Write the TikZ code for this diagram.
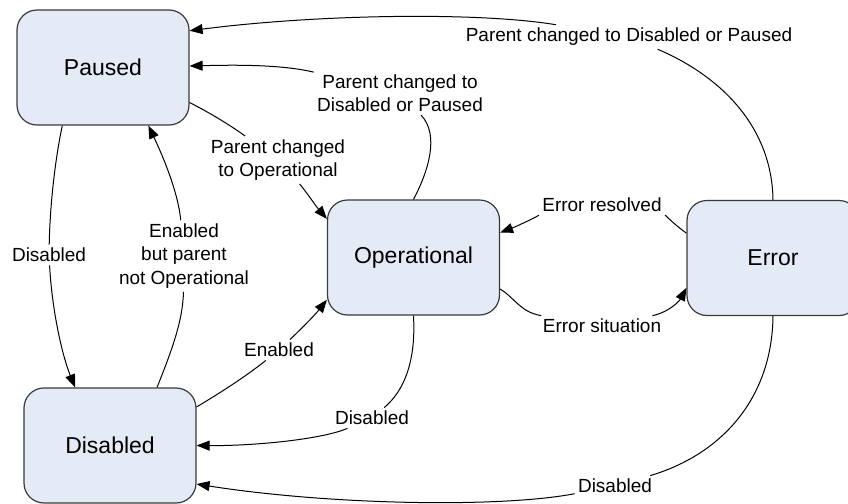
\documentclass[tikz,border=0pt]{standalone}
\usepackage{fontspec}
\setmainfont{Liberation Sans}
\usetikzlibrary{arrows.meta}
\definecolor{boxfill}{HTML}{E4EBF6}
\definecolor{boxline}{HTML}{3A3A3A}
\begin{document}
\begin{tikzpicture}[x=0.5pt,y=-0.5pt,
  state/.style={draw=boxline, fill=boxfill, line width=0.6pt, rounded corners=10pt,
    minimum width=86pt, minimum height=57.5pt, inner sep=0pt,
    font=\fontsize{11.5}{14}\selectfont},
  lbl/.style={inner sep=1.5pt, align=center, font=\fontsize{9.5}{11.75}\selectfont},
  tr/.style={line width=0.5pt},
  arr/.style={tr, -{Triangle[length=6.5pt,width=5pt]}}]
\useasboundingbox (0,0) rectangle (848,504);

% states
\node[state] (P) at (103,67.5) {Paused};
\node[state] (D) at (110,445.5) {Disabled};
\node[state] (O) at (413.5,257.5) {Operational};
\node[state] (E) at (773,258) {Error};

% labels
\node[lbl] (L1) at (629,37) {Parent changed to Disabled or Paused};
\node[lbl] (L2) at (400,93) {Parent changed to\\Disabled or Paused};
\node[lbl] (L3) at (278,160) {Parent changed\\to Operational};
\node[lbl] (L4) at (49,255) {Disabled};
\node[lbl] (L5) at (184,256) {Enabled\\but parent\\not Operational};
\node[lbl] (L6) at (279,350) {Enabled};
\node[lbl] (L7) at (372,418) {Disabled};
\node[lbl] (L8) at (602,205) {Error resolved};
\node[lbl] (L9) at (602,326) {Error situation};
\node[lbl] (L10) at (615,486) {Disabled};

% Error -> Paused (top arc)
\draw[tr] (E.north) .. controls (772,130) and (725,78) .. (L1);
\draw[arr] (L1) .. controls (480,12) and (320,14) .. (P.23);

% Operational -> Paused
\draw[tr] (O.north) .. controls (428,172) and (440,135) .. (L2);
\draw[arr] (L2) .. controls (280,64) and (230,65) .. (P.1);

% Paused -> Operational
\draw[tr] (P.-22) .. controls (210,113) and (230,125) .. (L3);
\draw[arr] (L3) .. controls (305,190) and (315,205) .. (O.156);

% Paused -> Disabled
\draw[tr] (P.-125) .. controls (55,160) and (50,205) .. (L4);
\draw[arr] (L4) .. controls (52,310) and (62,355) .. (D.121);

% Disabled -> Paused
\draw[tr] (D.51) .. controls (172,350) and (183,320) .. (L5);
\draw[arr] (L5) .. controls (178,190) and (160,150) .. (P.-52);

% Disabled -> Operational
\draw[tr] (D.24) .. controls (220,393) and (245,377) .. (L6);
\draw[arr] (L6) .. controls (300,330) and (315,315) .. (O.-154);

% Operational -> Disabled
\draw[tr] (O.south) .. controls (416,360) and (405,390) .. (L7);
\draw[arr] (L7) .. controls (320,440) and (250,446) .. (D.east);

% Error -> Operational
\draw[tr] (E.164) .. controls (675,225) and (665,215) .. (L8);
\draw[arr] (L8) .. controls (540,215) and (520,225) .. (O.16);

% Operational -> Error
\draw[tr] (O.-20) .. controls (515,298) and (520,312) .. (L9);
\draw[arr] (L9) .. controls (670,312) and (680,300) .. (E.-161);

% Error -> Disabled (bottom arc)
\draw[tr] (E.south) .. controls (772,400) and (720,455) .. (L10);
\draw[arr] (L10) .. controls (500,508) and (330,505) .. (D.-24);
\end{tikzpicture}
\end{document}
